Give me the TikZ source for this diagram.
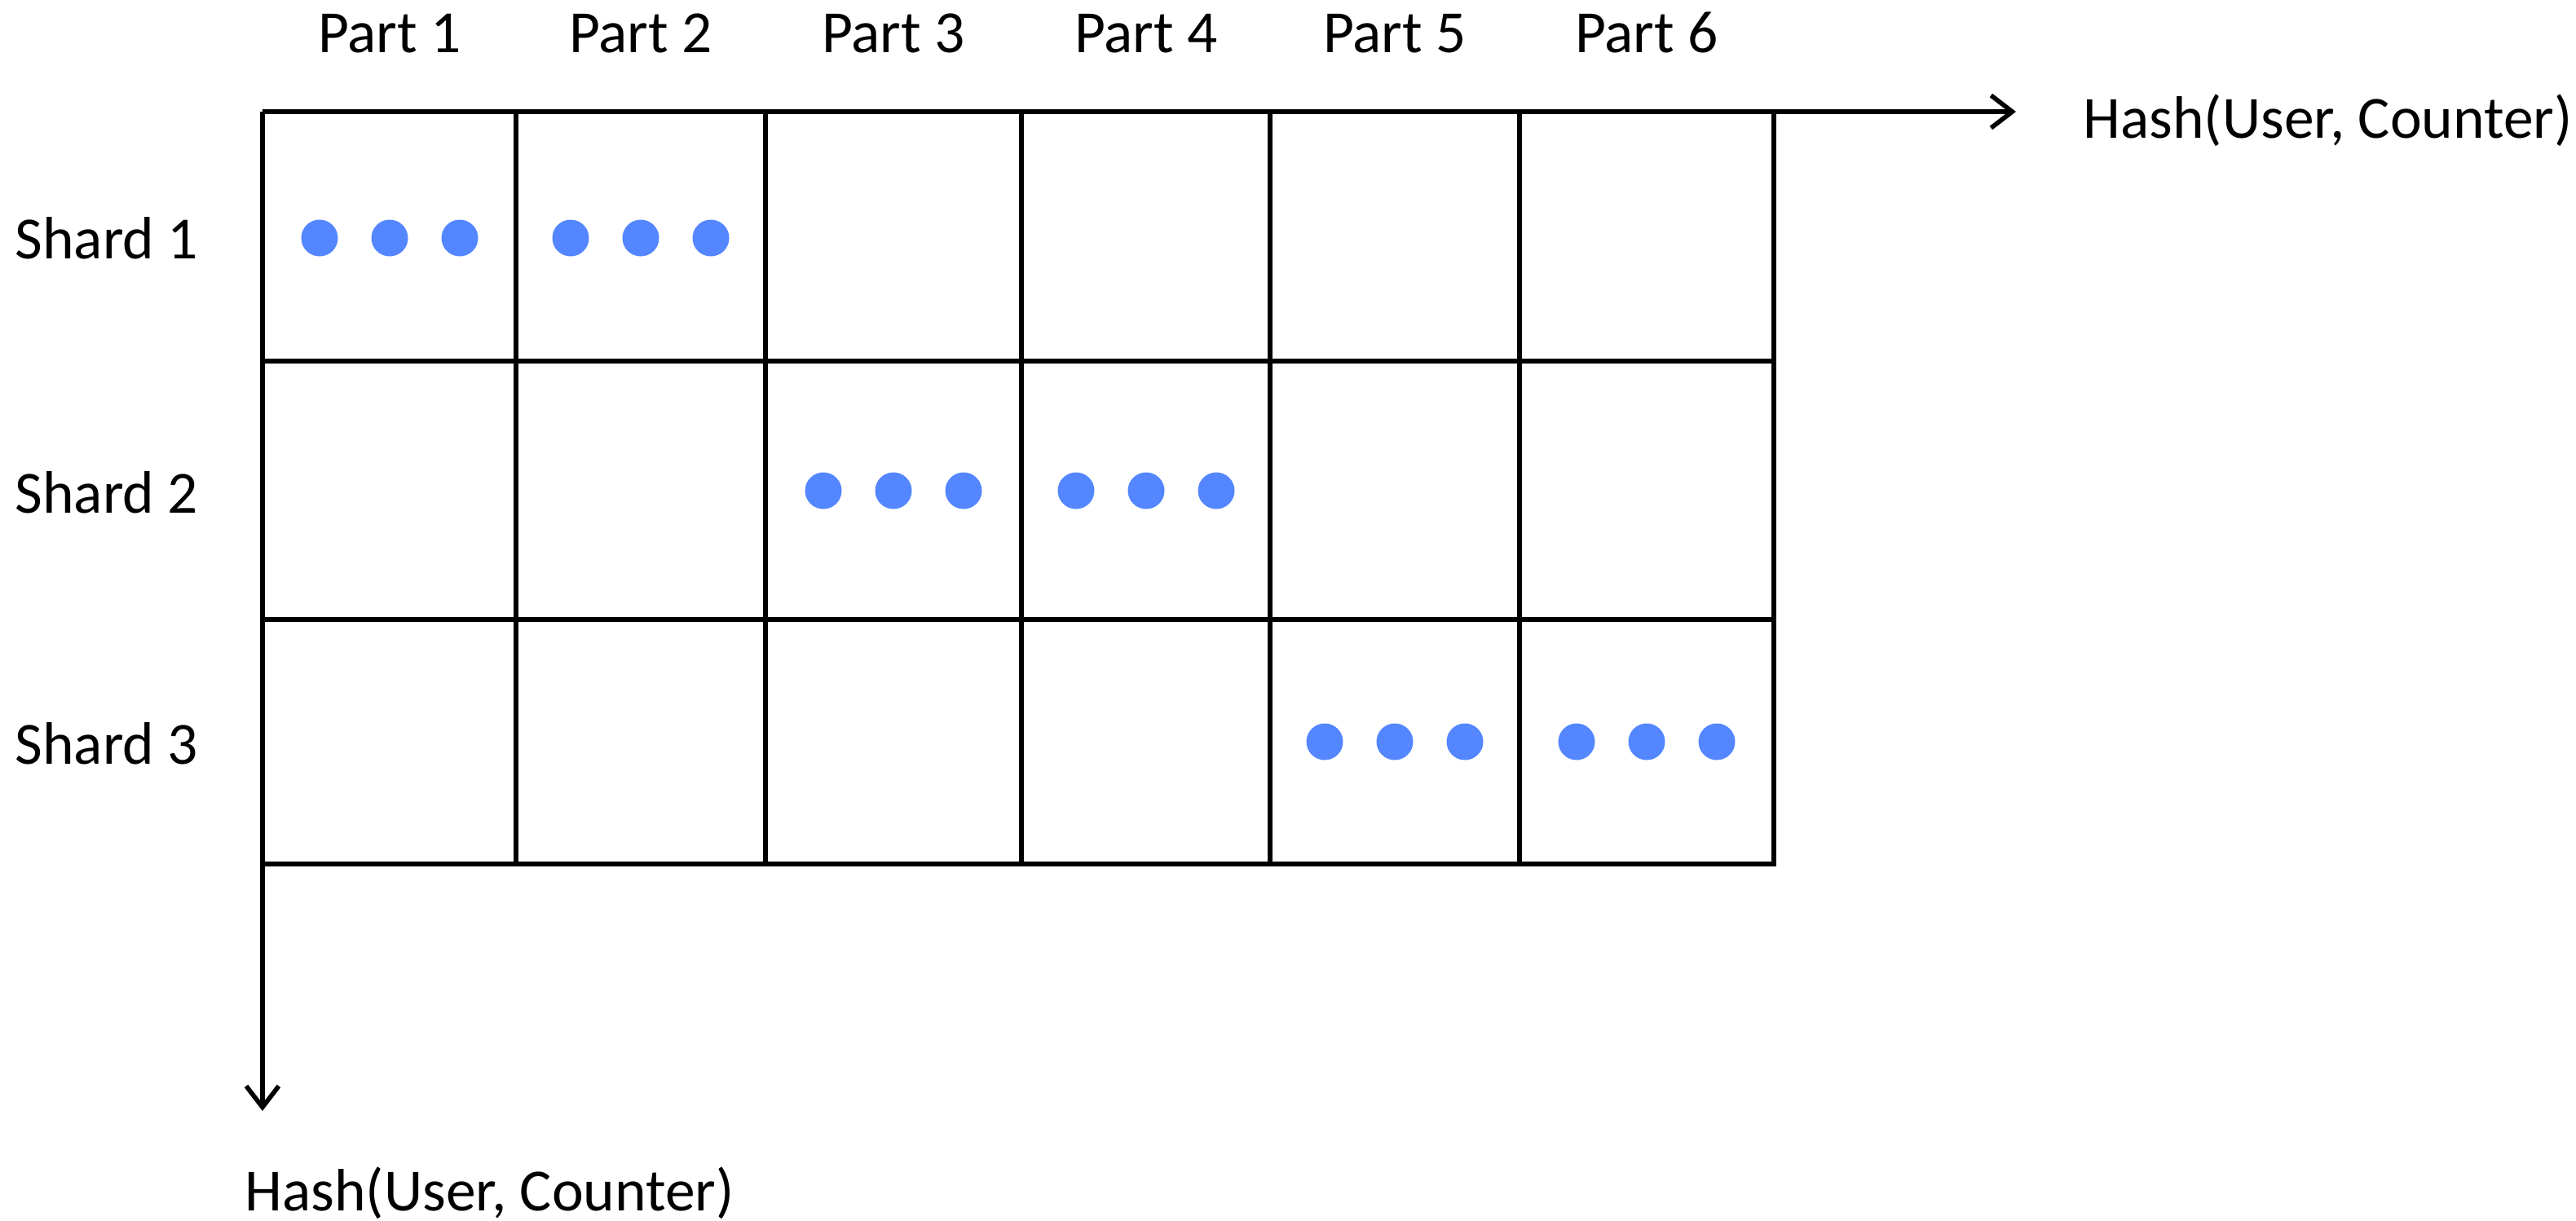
\documentclass[tikz,border=0pt]{standalone}
\usepackage{fontspec}
\setmainfont{Carlito}
\usetikzlibrary{arrows.meta,positioning}
\definecolor{dotblue}{RGB}{83,134,255}

\begin{document}
\begin{tikzpicture}[
  grid line/.style={line width=1.6pt, line cap=rect},
  axis/.style={line width=1.6pt, -{Straight Barb[length=2.6mm,width=4mm]}},
  label text/.style={inner sep=0pt, font=\fontsize{20.9}{25}\selectfont},
  item dot/.style={circle, fill=dotblue, draw=none, minimum size=4.5mm, inner sep=0pt}
]
  \useasboundingbox (0,0) rectangle (31.6,-14.98);
  % axes
  \coordinate (O)    at (3.22,-1.37);
  \coordinate (xend) at (24.73,-1.37);
  \coordinate (yend) at (3.22,-13.63);
  \draw[axis] (O) -- (xend);
  \draw[axis] (O) -- (yend);
  \node[label text, anchor=base west] (xlabel) at (25.55,-1.70) {Hash(User, Counter)};
  \node[label text, anchor=base west] (ylabel) at (3.00,-14.85) {Hash(User, Counter)};
  % grid
  \foreach \y in {-4.43,-7.60,-10.60}
    \draw[grid line] (3.22,\y) -- (21.76,\y);
  \foreach \x in {6.33,9.39,12.53,15.58,18.64,21.76}
    \draw[grid line] (\x,-1.37) -- (\x,-10.60);
  % headers
  \foreach \c/\x in {1/4.78,2/7.86,3/10.96,4/14.06,5/17.11,6/20.20}
    \node[label text, anchor=base] (part\c) at (\x,-0.65) {Part \c};
  \foreach \r/\y in {1/-3.17,2/-6.29,3/-9.37}
    \node[label text, anchor=base west] (shard\r) at (0.18,\y) {Shard \r};
  % dots
  \foreach \c/\x/\y in {1/4.78/-2.92,2/7.86/-2.92,3/10.96/-6.02,4/14.06/-6.02,5/17.11/-9.10,6/20.20/-9.10}
    \foreach \k in {1,2,3}
      \node[item dot] (dot\c\k) at (\x+0.86*\k-1.72,\y) {};
\end{tikzpicture}
\end{document}
